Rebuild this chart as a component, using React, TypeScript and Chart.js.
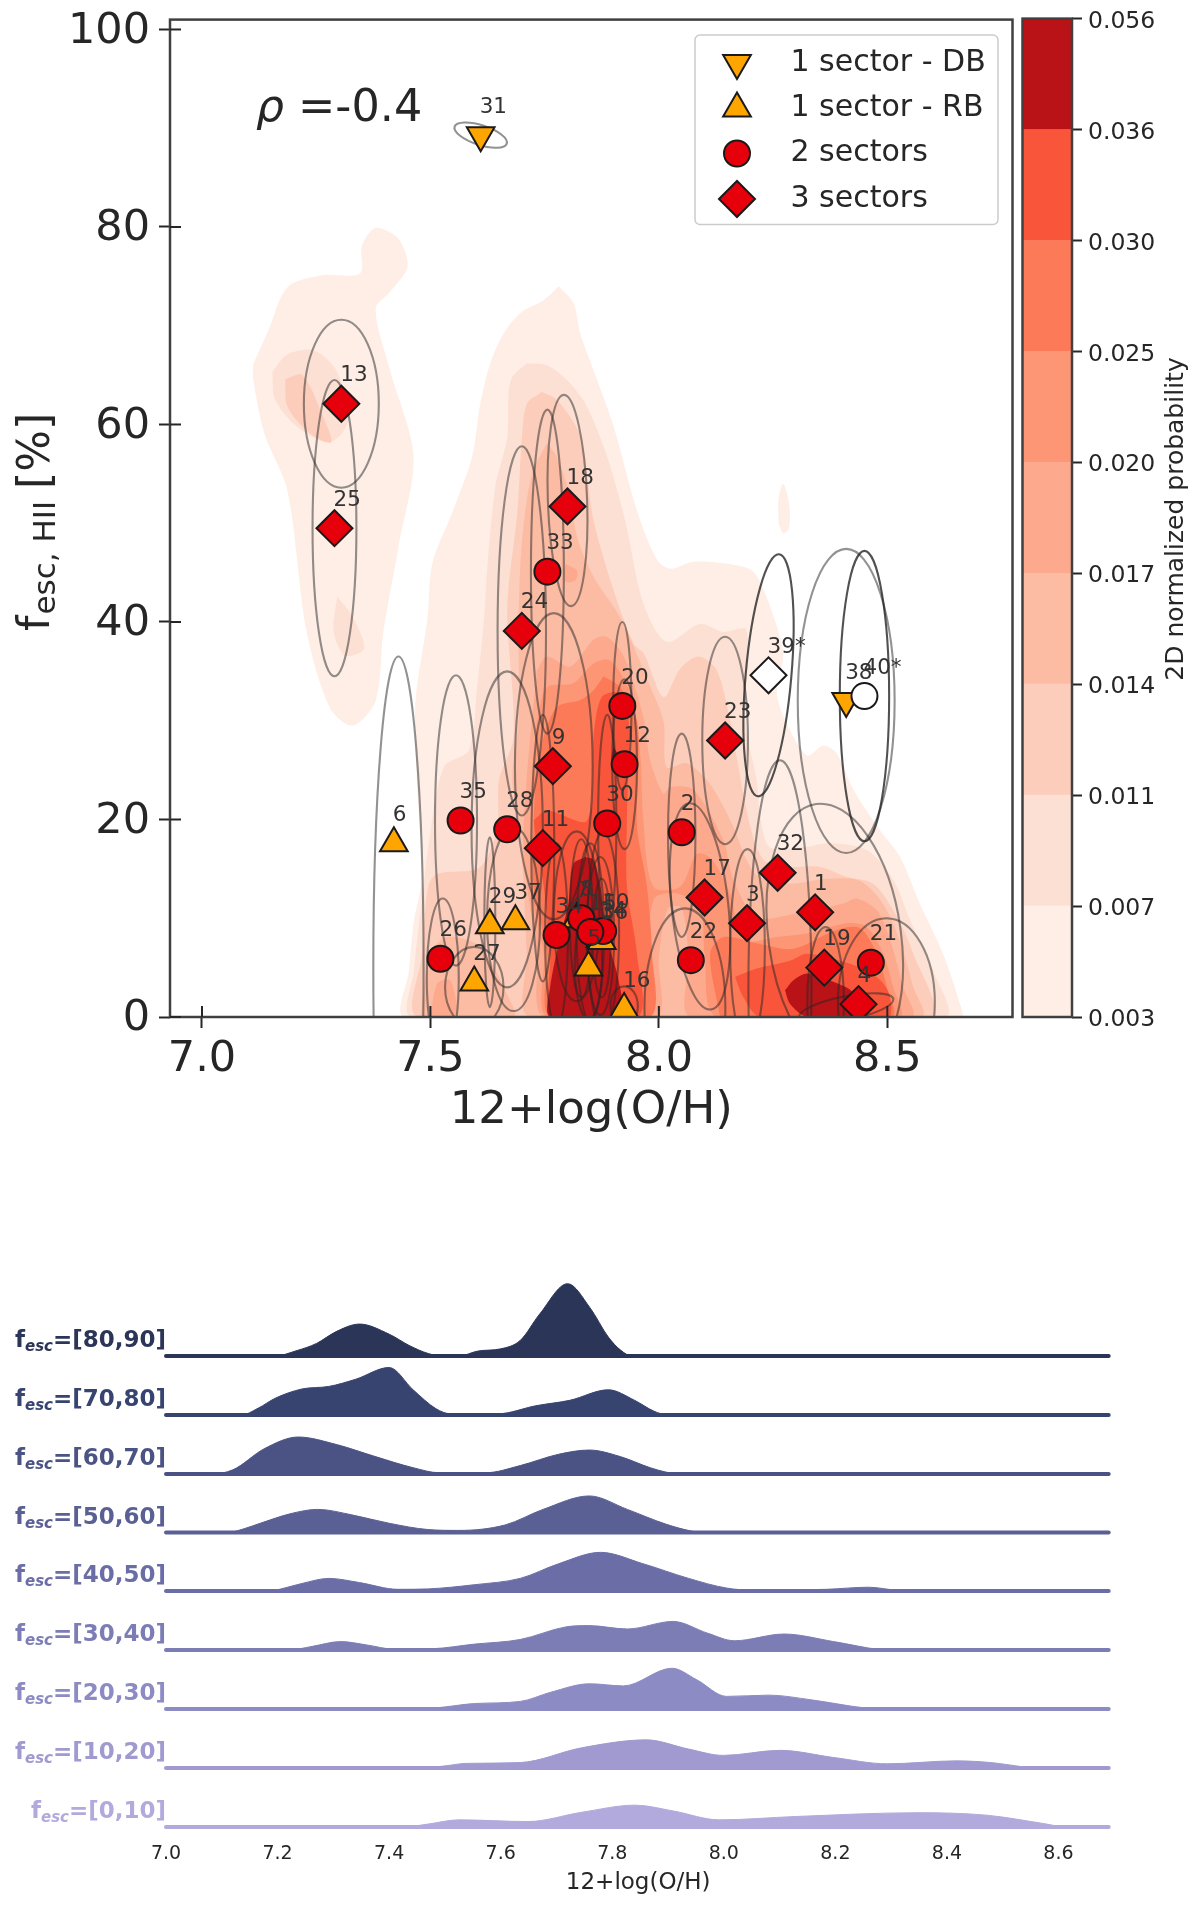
import React, { useEffect, useRef } from "react";
import { Chart, registerables } from "chart.js";
import { drawPoint } from "chart.js/helpers";

Chart.register(...registerables);

type P = [number, number];

const FONT = "'DejaVu Sans', sans-serif";
const INK = "#262626";

// ---------- galaxies ----------
const galaxyIds = ["1","2","3","4","5","6","7","8","9","10","11","12","13","14","15","16","17","18","19","20","21","22","23","24","25","26","27","28","29","30","31","32","33","34","35","36","37","38","39*","40*"];
const galaxyOH = [8.342,8.05,8.193,8.437,7.846,7.42,7.82,7.83,7.768,7.878,7.746,7.925,7.305,7.872,7.85,7.924,8.10,7.80,8.362,7.92,8.464,8.07,8.145,7.70,7.29,7.522,7.596,7.668,7.63,7.887,7.61,8.26,7.756,7.776,7.566,7.875,7.686,8.41,8.24,8.45];
const galaxyFesc = [10.6,18.7,9.5,1.3,5,17.6,9.9,10,25.4,8.7,17.1,25.6,62.1,7.9,8.6,0.8,12.1,51.7,5,31.5,5.5,5.75,28,39.1,49.5,5.9,3.5,19,9.3,19.6,89.3,14.6,45.1,8.3,19.9,7.7,9.7,32,34.6,32.5];
const galaxyKind = ["d","c","d","d","r","r","r","c","d","c","d","c","d","r","c","r","d","d","d","c","c","c","d","d","d","c","r","c","r","c","b","d","c","c","c","r","r","b","D","C"];

// ---------- uncertainty ellipses ----------
const ellipseCx = [8.385,8.05,8.194,8.41,7.846,7.43,7.82,7.83,7.77,7.878,7.746,7.925,7.305,7.872,7.85,7.924,8.09,7.80,8.365,7.92,8.498,8.057,8.145,7.70,7.29,7.527,7.596,7.668,7.63,7.887,7.61,8.265,7.756,7.776,7.556,7.875,7.682,8.41,8.24,8.45];
const ellipseCy = [8.1,18.4,7,0.9,5.3,5,10.2,10,25.4,8.7,17.1,25.6,62.1,8.2,8.6,1.1,11.2,52.3,1.5,31.5,1.5,1,28,39.1,49.5,4,3,19,9.6,19.6,89.3,3,45.1,8.3,19.9,8,9.9,32,34.6,32.5];
const ellipseRx = [0.145,0.03,0.038,0.105,0.03,0.055,0.05,0.025,0.085,0.035,0.025,0.027,0.082,0.03,0.03,0.03,0.062,0.043,0.04,0.02,0.106,0.0885,0.05,0.053,0.048,0.035,0.064,0.078,0.012,0.02,0.06,0.069,0.036,0.025,0.046,0.02,0.058,0.106,0.05,0.054];
const ellipseRy = [13.6,10.3,10,1.2,5.5,31.5,8.6,8,15.5,10,13.5,8.6,8.5,8,9,2,10.5,10.7,7.6,8.5,8.5,10,10.5,18.7,15,8,4.1,16,8.6,11,1,23,16.4,9.3,14.7,6,9.3,15.4,12.3,14.7];
const ellipseTilt = [-8,0,0,-11,0,0,0,0,0,0,0,0,0,0,0,0,-6,-2,0,0,0,0,0,0,0,0,0,0,0,0,18,0,0,0,0,0,0,0,5,0];

// ---------- 2D probability contours (x = 12+log(O/H), y = fesc) ----------
const levelColors = ["#feeee6","#fde0d4","#fdcdbb","#fcbca4","#fca98e","#fd9675","#fd7a58","#f8553a","#b91318"];
const levelTicks = ["0.003","0.007","0.011","0.014","0.017","0.020","0.025","0.030","0.036","0.056"];

const level1Left: P[] = [[7.112,66.1],[7.146,69.6],[7.187,73.9],[7.263,75.1],[7.346,75.3],[7.35,78.1],[7.38,79.9],[7.43,78.8],[7.45,76],[7.413,73.5],[7.38,71.7],[7.413,65.3],[7.463,56.8],[7.43,47.6],[7.397,39],[7.38,32],[7.33,29.5],[7.28,31.3],[7.229,39],[7.187,53.3],[7.137,59],[7.112,64.6]];
const level1Spot: P[] = [[8.262,50],[8.262,52.5],[8.272,54],[8.285,52],[8.285,49.5],[8.272,49]];
const level1Main: P[] = [[7.781,74],[7.813,72.3],[7.828,69.2],[7.857,65.5],[7.901,59.8],[7.952,51.3],[7.996,46.3],[8.025,45.4],[8.076,46.1],[8.163,45.8],[8.207,45.1],[8.24,42],[8.272,36.8],[8.258,33.1],[8.273,30.4],[8.324,26.5],[8.36,27.5],[8.389,26.7],[8.426,23],[8.484,18.9],[8.528,16.2],[8.571,11.5],[8.622,6.4],[8.659,1.3],[8.662,0],[7.445,0],[7.453,4.7],[7.464,9.8],[7.482,14.2],[7.471,23.3],[7.467,31.8],[7.493,40.2],[7.504,45.9],[7.547,51],[7.591,56.7],[7.609,62.1],[7.631,66.2],[7.66,69.2],[7.697,71.3],[7.748,72.6]];
const level2Left: P[] = [[7.154,65.3],[7.187,67.1],[7.246,67.5],[7.296,65.3],[7.32,60.4],[7.28,58.2],[7.21,59.7],[7.16,62.5]];
const level2Low: P[] = [[7.296,42.6],[7.33,40.5],[7.355,37.3],[7.313,36.6],[7.288,39]];
const level2Main: P[] = [[7.711,66.2],[7.755,66],[7.799,64.5],[7.843,61.8],[7.887,56.7],[7.926,50.3],[7.966,41.9],[8.017,38],[8.09,39.8],[8.14,39],[8.192,39.2],[8.189,30],[8.214,24],[8.221,20.6],[8.243,17.2],[8.316,17.2],[8.375,17.6],[8.455,16.9],[8.513,13.9],[8.55,9.8],[8.6,4.7],[8.626,0],[7.46,0],[7.464,4.7],[7.485,13.2],[7.493,16.5],[7.529,25.3],[7.584,27],[7.602,33.4],[7.617,40.2],[7.624,45.2],[7.642,53.7],[7.668,58.7],[7.671,63.1],[7.679,64.8]];
const level3Left: P[] = [[7.182,64.6],[7.22,65],[7.263,61],[7.283,58.2],[7.238,59],[7.187,61.8]];
const level3Main: P[] = [[7.744,63.3],[7.777,62.5],[7.828,58.8],[7.857,50.3],[7.901,43.2],[7.945,37.8],[7.967,36.8],[8.01,32.4],[8.047,35.3],[8.087,36.5],[8.127,35.1],[8.156,30],[8.17,26.4],[8.2,19.3],[8.229,15.9],[8.265,15.5],[8.294,15.2],[8.353,15.2],[8.411,14.2],[8.469,13.5],[8.513,10.8],[8.557,6.4],[8.593,0],[7.475,0],[7.482,6.4],[7.495,13.2],[7.515,14.5],[7.609,15.2],[7.646,19.25],[7.65,24],[7.682,28.4],[7.668,40.2],[7.671,43.6],[7.69,51],[7.7,58.4],[7.711,62.1]];
const level4Main: P[] = [[7.755,58.1],[7.777,56.7],[7.806,52.7],[7.821,48.6],[7.857,44.6],[7.915,40.5],[7.959,36],[7.966,35.1],[8.01,30],[8.017,25.3],[8.061,25.7],[8.112,23.6],[8.163,19.3],[8.192,15.9],[8.22,14.2],[8.287,13.5],[8.367,14],[8.44,13.8],[8.49,11.5],[8.527,7.8],[8.557,3],[8.575,0],[7.719,0],[7.711,6.4],[7.704,13.2],[7.697,18.6],[7.679,24],[7.693,30],[7.693,40.2],[7.7,48],[7.722,55]];
const level4Low: P[] = [[7.478,0],[7.5,6.4],[7.536,8.1],[7.602,7.4],[7.631,5.7],[7.66,3],[7.682,0]];
const level5Spot: P[] = [[7.795,45.9],[7.821,45.2],[7.817,44.2],[7.795,44.1]];
const level5Low: P[] = [[7.5,0],[7.515,3.4],[7.544,3.7],[7.555,0]];
const level5Main: P[] = [[7.733,35.1],[7.755,36.5],[7.806,35.5],[7.857,38.2],[7.886,38.5],[7.923,36.5],[7.966,30.4],[7.981,26],[8.01,22.6],[8.025,23.3],[8.076,23],[8.141,17.9],[8.163,13.9],[8.214,10.1],[8.302,10.5],[8.404,11.5],[8.433,12],[8.477,10.8],[8.506,7.8],[8.535,3],[8.553,0],[8.07,0],[8.065,6],[8.05,11],[8.02,11],[8,6],[7.995,0],[7.748,0],[7.733,6.4],[7.704,16.5],[7.711,24.3]];
const level6Main: P[] = [[7.733,30],[7.755,33.4],[7.813,33.8],[7.857,35.8],[7.894,36.1],[7.937,32.8],[7.959,26.7],[7.966,19.9],[7.988,13.2],[8.047,13.2],[8.083,16.5],[8.115,16],[8.156,12.5],[8.185,7.8],[8.258,8.1],[8.33,8.5],[8.411,9.5],[8.455,9.1],[8.491,6.4],[8.513,3],[8.527,0],[8.127,0],[8.1,6.4],[8.09,11],[8.04,12.5],[7.99,12],[7.975,6],[7.97,0],[7.755,0],[7.748,6.4],[7.72,13],[7.722,23.3]];
const level7Main: P[] = [[7.879,34.5],[7.915,33.4],[7.952,30],[7.955,25],[7.952,19.3],[7.974,13.2],[7.985,6.4],[7.981,0],[7.762,0],[7.755,6.4],[7.726,13.2],[7.726,19.9],[7.733,25],[7.748,28.4],[7.777,31.4],[7.828,32.1],[7.857,33.1]];
const level7Right: P[] = [[8.134,0],[8.112,6.4],[8.141,8.1],[8.222,7.4],[8.294,6.9],[8.389,8.8],[8.44,9],[8.477,6.4],[8.499,3],[8.51,0]];
const level8Main: P[] = [[7.726,19.9],[7.755,20.9],[7.843,19.9],[7.857,28.4],[7.875,32.4],[7.915,32.8],[7.934,30],[7.93,19.9],[7.93,13.2],[7.952,6.4],[7.955,0],[7.77,0],[7.762,6.4],[7.748,13.2],[7.733,17.2]];
const level8Right: P[] = [[8.167,4.05],[8.214,4.9],[8.287,5.7],[8.324,6.4],[8.397,5.7],[8.455,4.7],[8.491,3.4],[8.506,2],[8.502,0],[8.222,0],[8.185,2]];
const level9Main: P[] = [[7.839,16.2],[7.857,15.9],[7.872,13.2],[7.886,8.1],[7.912,3.7],[7.915,0],[7.762,0],[7.762,3],[7.784,8.1],[7.802,11.5],[7.813,15.5]];
const level9Spot: P[] = [[7.901,27.4],[7.912,26.3],[7.897,26.2]];
const level9Right: P[] = [[8.276,2.7],[8.294,3.7],[8.324,4.4],[8.375,3.7],[8.426,2.4],[8.418,0],[8.324,0],[8.287,1.35]];

const contourLayers: [number, P[]][] = [
  [0, level1Left],[0, level1Spot],[0, level1Main],
  [1, level2Left],[1, level2Low],[1, level2Main],
  [2, level3Left],[2, level3Main],
  [3, level4Main],[3, level4Low],
  [4, level5Spot],[4, level5Low],[4, level5Main],
  [5, level6Main],
  [6, level7Main],[6, level7Right],
  [7, level8Main],[7, level8Right],
  [8, level9Main],[8, level9Spot],[8, level9Right],
];

// ---------- ridgeline densities ----------
const ridgeLabels = ["[80,90]","[70,80]","[60,70]","[50,60]","[40,50]","[30,40]","[20,30]","[10,20]","[0,10]"];
const ridgeColors = ["#2b3558","#384470","#4a5384","#5b6094","#6b6ea6","#7c7db5","#8d8bc3","#a09ad0","#b2a9dd"];
const ridge80: P[] = [[7,0],[7.195,0],[7.235,13],[7.27,30],[7.305,58],[7.347,76],[7.40,52],[7.436,25],[7.47,6],[7.495,0],[7.525,0],[7.56,12],[7.60,17],[7.635,37],[7.67,100],[7.72,172],[7.76,115],[7.793,45],[7.815,14],[7.835,0],[8.69,0]];
const ridge70: P[] = [[7,0],[7.135,0],[7.165,16],[7.196,40],[7.244,62],[7.292,68],[7.34,85],[7.40,113],[7.443,60],[7.484,15],[7.51,3],[7.595,3],[7.663,22],[7.724,35],[7.793,60],[7.84,35],[7.875,9],[7.90,0],[8.69,0]];
const ridge60: P[] = [[7,0],[7.08,0],[7.12,10],[7.176,60],[7.237,88],[7.306,70],[7.374,42],[7.443,15],[7.49,3],[7.573,3],[7.635,20],[7.704,47],[7.759,57],[7.813,42],[7.868,15],[7.895,5],[7.92,0],[8.69,0]];
const ridge50: P[] = [[7,0],[7.11,0],[7.14,9],[7.169,22],[7.224,45],[7.272,55],[7.333,42],[7.40,22],[7.47,7],[7.525,5],[7.608,18],[7.676,55],[7.759,87],[7.827,55],[7.896,20],[7.94,4],[7.965,0],[8.69,0]];
const ridge40: P[] = [[7,0],[7.185,0],[7.215,8],[7.244,18],[7.292,30],[7.347,20],[7.416,4],[7.47,5],[7.553,15],[7.635,30],[7.704,65],[7.779,92],[7.855,65],[7.937,30],[8.005,7],[8.053,2],[8.184,4],[8.259,9],[8.314,1],[8.335,0],[8.69,0]];
const ridge30: P[] = [[7,0],[7.22,0],[7.26,8],[7.313,20],[7.36,12],[7.409,2],[7.477,3],[7.553,14],[7.635,25],[7.717,55],[7.759,58],[7.827,50],[7.909,68],[7.971,40],[8.019,22],[8.108,38],[8.197,20],[8.28,1],[8.30,0],[8.69,0]];
const ridge20: P[] = [[7,0],[7.46,0],[7.5,5],[7.553,13],[7.635,18],[7.69,40],[7.759,60],[7.82,55],[7.907,97],[7.951,70],[8.005,30],[8.081,33],[8.156,22],[8.25,3],[8.28,0],[8.69,0]];
const ridge10: P[] = [[7,0],[7.46,0],[7.5,5],[7.539,11],[7.635,13],[7.745,48],[7.861,67],[7.937,45],[7.999,30],[8.101,42],[8.197,25],[8.293,10],[8.417,17],[8.486,12],[8.54,2],[8.555,0],[8.69,0]];
const ridge0: P[] = [[7,0],[7.425,0],[7.47,7],[7.525,17],[7.649,13],[7.745,35],[7.841,52],[7.91,38],[7.992,17],[8.129,25],[8.348,34],[8.472,28],[8.57,9],[8.615,0],[8.69,0]];
const ridgeRows = [ridge80,ridge70,ridge60,ridge50,ridge40,ridge30,ridge20,ridge10,ridge0];

// ---------- layout ----------
const MAIN_W = 1020, MAIN_H = 1140;
const PLOT = { left: 170, right: 1012.5, top: 19.6, bottom: 1017 };
const CB = { x: 1015, w: 185, h: 1040, left: 1022.5, right: 1072, top: 18.6, bottom: 1017 };
const RIDGE = { y: 1250, w: 1200, h: 659, left: 166, right: 1110.4, top: 1250, bottom: 1835, rowPx: 1 / 2.379 };
const ridgeBaselines = [1356, 1415, 1474, 1532.5, 1591, 1650, 1709, 1768, 1827];

const noMargins = (s: any) => {
  s.paddingLeft = 0;
  s.paddingRight = 0;
  s.paddingTop = 0;
  s.paddingBottom = 0;
};

function kindStyle(kind: string) {
  if (kind === "b") return { pointStyle: "triangle", rotation: 180, radius: 16, fill: "#ffa500" };
  if (kind === "r") return { pointStyle: "triangle", rotation: 0, radius: 16, fill: "#ffa500" };
  if (kind === "c" || kind === "C") return { pointStyle: "circle", rotation: 0, radius: 13, fill: kind === "C" ? "#ffffff" : "#e6000b" };
  return { pointStyle: "rectRot", rotation: 0, radius: 18, fill: kind === "D" ? "#ffffff" : "#e6000b" };
}

const markerGroups = ["r", "b", "c", "d", "D", "C"];
const legendRows: [string, string][] = [["b", "1 sector - DB"], ["r", "1 sector - RB"], ["c", "2 sectors"], ["d", "3 sectors"]];

const mainDecor = {
  id: "mainDecor",
  beforeDatasetDraw(chart: any, args: any) {
    if (chart.data.datasets[args.index].label !== "group-r") return;
    const { ctx, chartArea: a, scales: { x, y } } = chart;
    ctx.save();
    ctx.beginPath();
    ctx.rect(a.left, a.top, a.right - a.left, a.bottom - a.top);
    ctx.clip();
    ctx.lineWidth = 2.1;
    ellipseCx.forEach((cx, i) => {
      const px = x.getPixelForValue(cx), py = y.getPixelForValue(ellipseCy[i]);
      const rx = Math.abs(x.getPixelForValue(cx + ellipseRx[i]) - px);
      const ry = Math.abs(y.getPixelForValue(ellipseCy[i] + ellipseRy[i]) - py);
      const white = galaxyKind[i] === "D" || galaxyKind[i] === "C";
      ctx.strokeStyle = white ? "rgba(38,38,38,0.8)" : "rgba(38,38,38,0.5)";
      ctx.beginPath();
      ctx.ellipse(px, py, rx, ry, (ellipseTilt[i] * Math.PI) / 180, 0, Math.PI * 2);
      ctx.stroke();
    });
    ctx.restore();
  },
  afterDatasetsDraw(chart: any) {
    const { ctx, chartArea: a, scales: { x, y } } = chart;
    ctx.save();
    ctx.strokeStyle = "#404040";
    ctx.lineWidth = 2.5;
    ctx.strokeRect(a.left, a.top, a.right - a.left, a.bottom - a.top);
    ctx.strokeStyle = INK;
    ctx.lineWidth = 2;
    y.ticks.forEach((t: any) => {
      const py = y.getPixelForValue(t.value);
      ctx.beginPath(); ctx.moveTo(a.left, py); ctx.lineTo(a.left + 11, py); ctx.stroke();
    });
    x.ticks.forEach((t: any) => {
      const px = x.getPixelForValue(t.value);
      ctx.beginPath(); ctx.moveTo(px, a.bottom); ctx.lineTo(px, a.bottom - 11); ctx.stroke();
    });
    ctx.fillStyle = "#333333";
    ctx.font = `21.5px ${FONT}`;
    ctx.textAlign = "left";
    ctx.textBaseline = "middle";
    galaxyIds.forEach((id, i) => {
      ctx.fillText(id, x.getPixelForValue(galaxyOH[i]) - 1, y.getPixelForValue(galaxyFesc[i]) - 28);
    });
    ctx.fillStyle = INK;
    ctx.textBaseline = "alphabetic";
    ctx.font = `italic 44px ${FONT}`;
    ctx.fillText("ρ", 256, 121);
    const w = ctx.measureText("ρ").width;
    ctx.font = `44.5px ${FONT}`;
    ctx.fillText(" =-0.4", 256 + w, 121);
    ctx.save();
    ctx.translate(49, 631);
    ctx.rotate(-Math.PI / 2);
    ctx.font = `44px ${FONT}`;
    ctx.fillText("f", 0, 0);
    let cur = ctx.measureText("f").width + 1;
    ctx.font = `31px ${FONT}`;
    ctx.fillText("esc, HII", cur, 6);
    cur += ctx.measureText("esc, HII").width + 12;
    ctx.font = `44px ${FONT}`;
    ctx.fillText("[%]", cur, 0);
    ctx.restore();
    ctx.fillStyle = "rgba(255,255,255,0.85)";
    ctx.strokeStyle = "#cccccc";
    ctx.lineWidth = 1.5;
    ctx.beginPath();
    ctx.roundRect(695, 35, 303, 189.5, 5);
    ctx.fill();
    ctx.stroke();
    const rows = [63, 108.6, 153.5, 199];
    legendRows.forEach(([kind, text], i) => {
      const s = kindStyle(kind);
      ctx.fillStyle = s.fill;
      ctx.strokeStyle = "#1a1a1a";
      ctx.lineWidth = 2;
      drawPoint(ctx, { pointStyle: s.pointStyle as any, radius: s.radius, rotation: s.rotation, borderWidth: 2 }, 737, rows[i]);
      ctx.fillStyle = INK;
      ctx.font = `30px ${FONT}`;
      ctx.textBaseline = "middle";
      ctx.fillText(text, 790.5, rows[i]);
    });
    ctx.restore();
  },
};

const cbDecor = {
  id: "cbDecor",
  afterDatasetsDraw(chart: any) {
    const { ctx, chartArea: a } = chart;
    ctx.save();
    ctx.strokeStyle = "#404040";
    ctx.lineWidth = 2.5;
    ctx.strokeRect(a.left, a.top, a.right - a.left, a.bottom - a.top);
    ctx.translate(1176 - CB.x, 519);
    ctx.rotate(-Math.PI / 2);
    ctx.fillStyle = INK;
    ctx.font = `25px ${FONT}`;
    ctx.textAlign = "center";
    ctx.textBaseline = "middle";
    ctx.fillText("2D normalized probability", 0, 0);
    ctx.restore();
  },
};

const ridgeDecor = {
  id: "ridgeDecor",
  afterDatasetsDraw(chart: any) {
    const { ctx } = chart;
    ctx.save();
    ctx.textBaseline = "alphabetic";
    ctx.textAlign = "left";
    ridgeLabels.forEach((lab, i) => {
      const by = ridgeBaselines[i] - RIDGE.y - 9;
      const rest = "=" + lab;
      ctx.fillStyle = ridgeColors[i];
      ctx.font = `bold 23px ${FONT}`;
      const wF = ctx.measureText("f").width;
      const wR = ctx.measureText(rest).width;
      ctx.font = `italic bold 15px ${FONT}`;
      const wS = ctx.measureText("esc").width;
      let cx = RIDGE.left - (wF + wS + wR);
      ctx.font = `bold 23px ${FONT}`;
      ctx.fillText("f", cx, by);
      cx += wF;
      ctx.font = `italic bold 15px ${FONT}`;
      ctx.fillText("esc", cx, by + 4);
      cx += wS;
      ctx.font = `bold 23px ${FONT}`;
      ctx.fillText(rest, cx, by);
    });
    ctx.restore();
  },
};

function toXY(pts: P[]) {
  return pts.map(([x, y]) => ({ x, y }));
}

export default function App() {
  const mainRef = useRef<HTMLCanvasElement>(null);
  const cbRef = useRef<HTMLCanvasElement>(null);
  const ridgeRef = useRef<HTMLCanvasElement>(null);

  useEffect(() => {
    const contourSets = contourLayers.map(([lvl, pts], i) => ({
      label: `level-${lvl}-${i}`,
      data: toXY([...pts, pts[0]]),
      showLine: true,
      fill: "shape",
      backgroundColor: levelColors[lvl],
      borderColor: levelColors[lvl],
      borderWidth: 0,
      pointRadius: 0,
      tension: 0.3,
      order: 1000 - i,
    }));
    const markerSets = markerGroups.map((g, gi) => {
      const s = kindStyle(g);
      const data: { x: number; y: number }[] = [];
      galaxyKind.forEach((k, i) => {
        if (k === g) data.push({ x: galaxyOH[i], y: galaxyFesc[i] });
      });
      return {
        label: `group-${g}`,
        data,
        showLine: false,
        pointStyle: s.pointStyle,
        pointRotation: s.rotation,
        pointRadius: s.radius,
        pointBackgroundColor: s.fill,
        pointBorderColor: "#1a1a1a",
        pointBorderWidth: 2,
        clip: 0,
        order: 20 - gi,
      };
    });
    const main = new Chart(mainRef.current!, {
      type: "scatter",
      data: { datasets: [...contourSets, ...markerSets] as any },
      plugins: [mainDecor],
      options: {
        animation: false,
        responsive: false,
        devicePixelRatio: 1,
        layout: { autoPadding: false, padding: { top: PLOT.top, right: MAIN_W - PLOT.right, left: 0, bottom: 0 } },
        plugins: { legend: { display: false }, tooltip: { enabled: false } },
        scales: {
          x: {
            type: "linear",
            min: 6.93,
            max: 8.774,
            grid: { display: true, drawOnChartArea: false, tickLength: 11, tickWidth: 2, tickColor: INK },
            border: { display: false },
            ticks: { stepSize: 0.5, includeBounds: false, color: INK, font: { family: FONT, size: 43 }, padding: 6, maxRotation: 0, callback: (v: any) => Number(v).toFixed(1) },
            title: { display: true, text: "12+log(O/H)", color: INK, font: { family: FONT, size: 45 }, padding: { top: 0, bottom: 2 } },
            afterFit: (s: any) => { s.height = MAIN_H - PLOT.bottom; noMargins(s); },
          },
          y: {
            type: "linear",
            min: 0,
            max: 101,
            grid: { display: true, drawOnChartArea: false, tickLength: 11, tickWidth: 2, tickColor: INK },
            border: { display: false },
            ticks: { stepSize: 20, includeBounds: false, color: INK, font: { family: FONT, size: 43 }, padding: 9, labelOffset: 2 },
            afterFit: (s: any) => { s.width = PLOT.left; noMargins(s); },
          },
        },
      } as any,
    });

    const cb = new Chart(cbRef.current!, {
      type: "bar",
      data: {
        labels: ["p"],
        datasets: levelColors.map((c, i) => ({
          label: levelTicks[i],
          data: [1],
          backgroundColor: c,
          borderWidth: 0,
          barPercentage: 1,
          categoryPercentage: 1,
        })),
      },
      plugins: [cbDecor],
      options: {
        animation: false,
        responsive: false,
        devicePixelRatio: 1,
        layout: { autoPadding: false, padding: { top: CB.top, bottom: CB.h - CB.bottom, left: CB.left - CB.x, right: 0 } },
        plugins: { legend: { display: false }, tooltip: { enabled: false } },
        scales: {
          x: { stacked: true, display: false },
          y: {
            stacked: true,
            position: "right",
            min: 0,
            max: levelColors.length,
            grid: { display: true, drawOnChartArea: false, tickLength: 10, tickWidth: 2, tickColor: INK },
            border: { display: false },
            ticks: { stepSize: 1, color: INK, font: { family: FONT, size: 23.5 }, padding: 6, labelOffset: 3, callback: (v: any) => levelTicks[Number(v)] },
            afterFit: (s: any) => { s.width = CB.x + CB.w - CB.right; noMargins(s); },
          },
        },
      } as any,
    });

    const plotH = RIDGE.bottom - RIDGE.top;
    const rowScales: any = {};
    ridgeRows.forEach((_, i) => {
      const up = ridgeBaselines[i] - RIDGE.top;
      rowScales[`y${i}`] = {
        type: "linear",
        display: false,
        min: -(plotH - up) / RIDGE.rowPx,
        max: up / RIDGE.rowPx,
      };
    });
    const ridgeSets: any[] = [];
    ridgeRows.forEach((row, i) => {
      ridgeSets.push({
        label: `density ${ridgeLabels[i]}`,
        data: toXY(row),
        yAxisID: `y${i}`,
        showLine: true,
        fill: "origin",
        backgroundColor: ridgeColors[i],
        borderColor: ridgeColors[i],
        borderWidth: 1,
        pointRadius: 0,
        cubicInterpolationMode: "monotone",
        clip: false,
      });
      ridgeSets.push({
        label: `base ${ridgeLabels[i]}`,
        data: [{ x: row[0][0], y: 0 }, { x: row[row.length - 1][0], y: 0 }],
        yAxisID: `y${i}`,
        showLine: true,
        fill: false,
        borderColor: ridgeColors[i],
        borderWidth: 4,
        borderCapStyle: "round",
        pointRadius: 0,
        clip: false,
      });
    });
    const ridge = new Chart(ridgeRef.current!, {
      type: "scatter",
      data: { datasets: ridgeSets },
      plugins: [ridgeDecor],
      options: {
        animation: false,
        responsive: false,
        devicePixelRatio: 1,
        layout: { autoPadding: false, padding: { top: 0, left: RIDGE.left, right: RIDGE.w - RIDGE.right, bottom: 0 } },
        plugins: { legend: { display: false }, tooltip: { enabled: false } },
        scales: {
          x: {
            type: "linear",
            min: 7,
            max: 7 + (RIDGE.right - RIDGE.left) / 557.8,
            grid: { display: false, drawTicks: false },
            border: { display: false },
            ticks: { stepSize: 0.2, includeBounds: false, color: INK, font: { family: FONT, size: 19 }, padding: 8, maxRotation: 0, callback: (v: any) => Number(v).toFixed(1) },
            title: { display: true, text: "12+log(O/H)", color: INK, font: { family: FONT, size: 23 }, padding: { top: 0, bottom: 12 } },
            afterFit: (s: any) => { s.height = RIDGE.y + RIDGE.h - RIDGE.bottom; noMargins(s); },
          },
          ...rowScales,
        },
      } as any,
    });

    return () => {
      main.destroy();
      cb.destroy();
      ridge.destroy();
    };
  }, []);

  const abs = (left: number, top: number): React.CSSProperties => ({ position: "absolute", left, top, display: "block" });
  return (
    <div style={{ position: "absolute", left: 0, top: 0, width: 1200, height: 1909, background: "#fff" }}>
      <canvas ref={mainRef} width={MAIN_W} height={MAIN_H} style={abs(0, 0)} />
      <canvas ref={cbRef} width={CB.w} height={CB.h} style={abs(CB.x, 0)} />
      <canvas ref={ridgeRef} width={RIDGE.w} height={RIDGE.h} style={abs(0, RIDGE.y)} />
    </div>
  );
}
